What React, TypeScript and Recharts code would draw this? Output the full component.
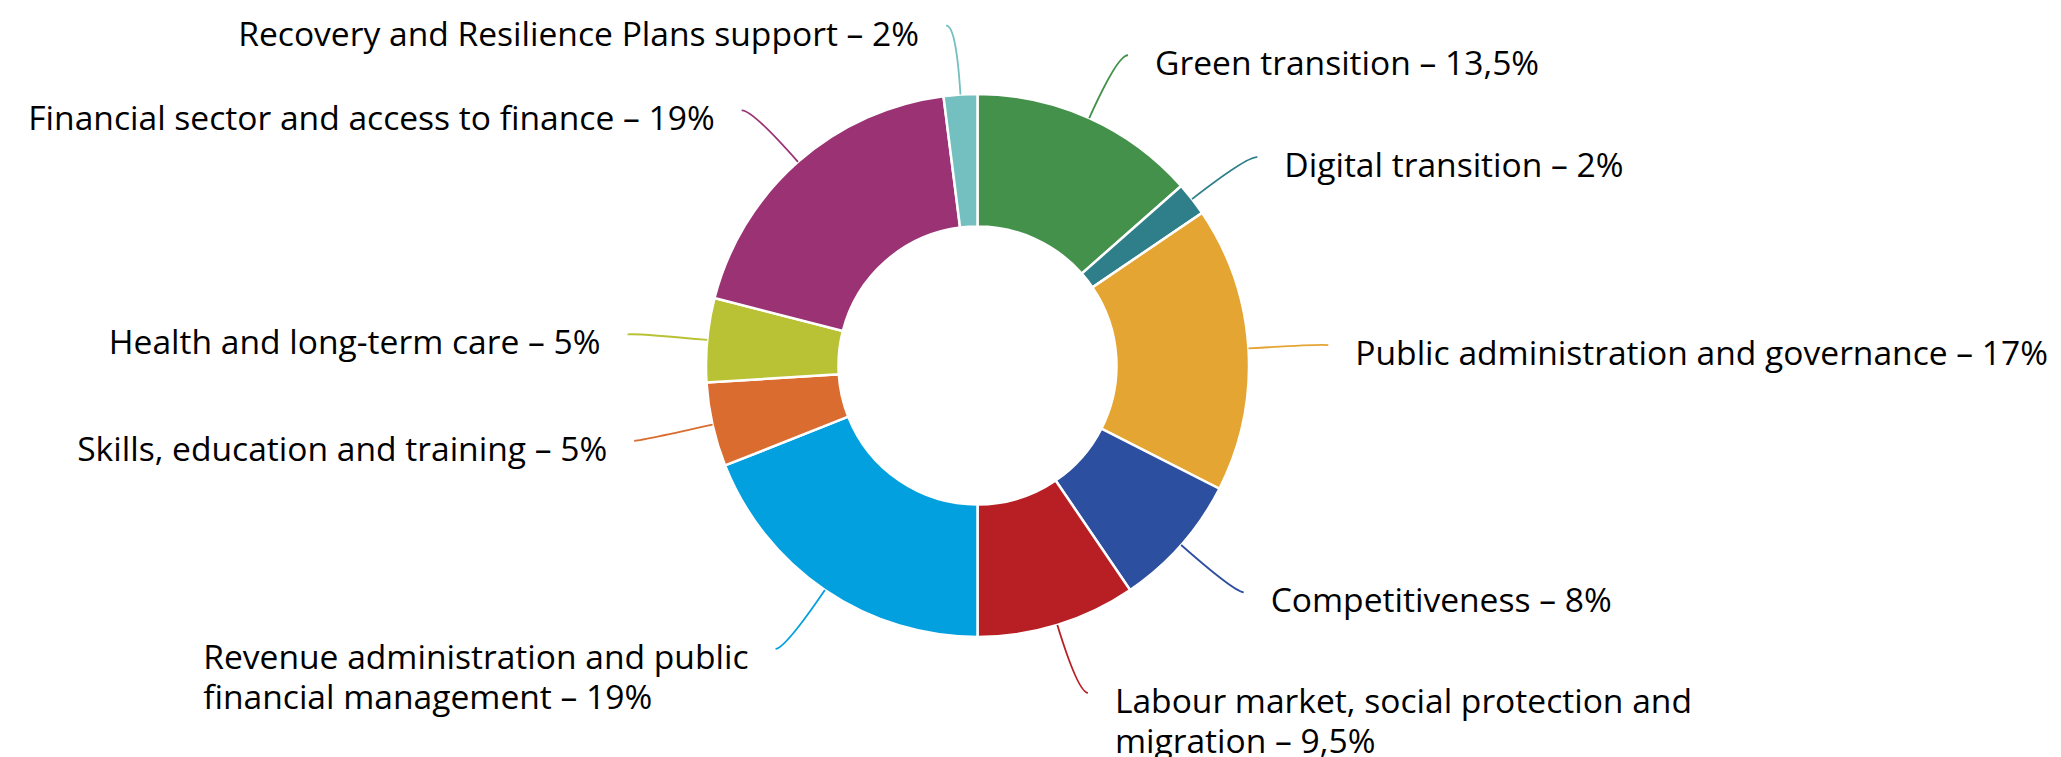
import { PieChart, Pie, Cell } from "recharts";

const names = [
  "Green transition",
  "Digital transition",
  "Public administration and governance",
  "Competitiveness",
  "Labour market, social protection and\nmigration",
  "Revenue administration and public\nfinancial management",
  "Skills, education and training",
  "Health and long-term care",
  "Financial sector and access to finance",
  "Recovery and Resilience Plans support",
];
const values = [13.5, 2, 17, 8, 9.5, 19, 5, 5, 19, 2];
const COLORS = [
  "#43914a",
  "#2e7f89",
  "#e5a533",
  "#2d4fa0",
  "#b71f24",
  "#02a0de",
  "#d96c2e",
  "#b9c235",
  "#9a3274",
  "#74bfbf",
];

const data = names.map((name, i) => ({ name, value: values[i] }));

const FONT = "'Open Sans', sans-serif";
const FONT_SIZE = 33.6;
const LINE_H = 40;
const RAD = Math.PI / 180;

let ctx: CanvasRenderingContext2D | null = null;
function textWidth(t: string) {
  if (!ctx) ctx = document.createElement("canvas").getContext("2d");
  if (!ctx) return t.length * FONT_SIZE * 0.53;
  ctx.font = `${FONT_SIZE}px 'Open Sans'`;
  return ctx.measureText(t).width;
}

function renderLabel(props: any) {
  const { cx, cy, midAngle, outerRadius, index } = props;
  const cos = Math.cos(-midAngle * RAD);
  const sin = Math.sin(-midAngle * RAD);
  const side = cos >= 0 ? 1 : -1;
  const sx = cx + outerRadius * cos;
  const sy = cy + outerRadius * sin;
  const mx = cx + (outerRadius + 70) * cos;
  const my = cy + (outerRadius + 70) * sin;
  const ex = mx + side * 10;
  const ey = my + 1;
  const color = COLORS[index];
  const label = `${names[index]} – ${String(values[index]).replace(".", ",")}%`;
  const lines = label.split("\n");
  const tx = ex + side * 27;
  let anchor = side > 0 ? "start" : "end";
  let x = tx;
  if (side < 0 && lines.length > 1) {
    const w = Math.max(...lines.map(textWidth));
    x = tx - w;
    anchor = "start";
  }
  return (
    <g key={`l-${index}`}>
      <path
        d={`M${sx},${sy} Q${mx},${my} ${ex},${ey}`}
        stroke={color}
        strokeWidth={1.8}
        fill="none"
      />
      {lines.map((ln, i) => (
        <text
          key={i}
          x={x}
          y={ey + 20 + i * LINE_H}
          textAnchor={anchor}
          fill="#000"
          fontFamily={FONT}
          fontSize={FONT_SIZE}
        >
          {ln}
        </text>
      ))}
    </g>
  );
}

export default function App() {
  return (
    <div
      style={{
        position: "fixed",
        left: 0,
        top: 0,
        width: 2061,
        height: 757,
        background: "#fff",
      }}
    >
      <PieChart width={2061} height={757}>
        <Pie
          data={data}
          dataKey="value"
          cx={972.5}
          cy={360.5}
          innerRadius={139}
          outerRadius={271.5}
          startAngle={90}
          endAngle={-270}
          stroke="#fff"
          strokeWidth={2.5}
          label={renderLabel}
          labelLine={false}
          isAnimationActive={false}
        >
          {data.map((_, i) => (
            <Cell key={i} fill={COLORS[i]} />
          ))}
        </Pie>
      </PieChart>
    </div>
  );
}
